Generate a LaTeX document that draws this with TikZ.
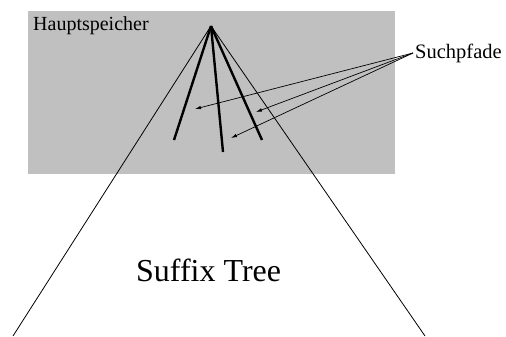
\documentclass[tikz,border=0pt]{standalone}
\usepackage{fontspec}
\newfontfamily\serifface{Liberation Serif}
\usetikzlibrary{arrows.meta}
\begin{document}
\begin{tikzpicture}[x=1bp,y=-1bp,
  memory/.style={fill={rgb,255:red,192;green,192;blue,192}, draw=none},
  edge/.style={line width=0.8bp, black},
  searchpath/.style={line width=2.4bp, black, line cap=butt},
  pointer/.style={line width=0.7bp, -{Latex[length=6bp,width=3.5bp]}},
  label/.style={inner sep=0pt, anchor=base west}]
  \useasboundingbox (0,0) rectangle (506,336);
  % main memory region
  \fill[memory] (28,11) rectangle (395,174);
  % tree outline
  \coordinate (root) at (211,26);
  \coordinate (bl) at (13,336);
  \coordinate (br) at (425,336);
  \draw[edge] (root) -- (bl);
  \draw[edge] (root) -- (br);
  % search paths inside main memory
  \coordinate (p1) at (174,140);
  \coordinate (p2) at (223,152);
  \coordinate (p3) at (262,140);
  \draw[searchpath] (root) -- (p1);
  \draw[searchpath] (root) -- (p2);
  \draw[searchpath] (root) -- (p3);
  % labels
  \node[label] (mem) at (33,30) {\serifface\fontsize{20bp}{24bp}\selectfont Hauptspeicher};
  \node[label] (paths) at (415,58) {\serifface\fontsize{20.5bp}{24bp}\selectfont Suchpfade};
  \node[label] (tree) at (136,281) {\serifface\fontsize{32bp}{38bp}\selectfont Suffix Tree};
  % pointers from label to search paths
  \coordinate (src) at (413,53);
  \draw[pointer] (src) -- (195,109);
  \draw[pointer] (src) -- (256,112);
  \draw[pointer] (src) -- (231,138);
\end{tikzpicture}
\end{document}
